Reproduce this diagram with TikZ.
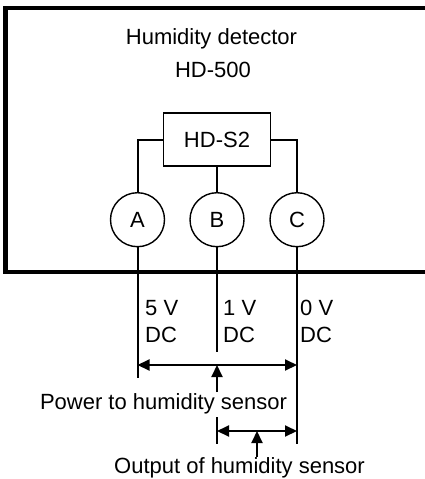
\documentclass[tikz,border=0pt]{standalone}
\usepackage{fontspec}
\setmainfont{Liberation Sans}
\usetikzlibrary{arrows.meta}
\begin{document}
\begin{tikzpicture}[x=1pt,y=-1pt,
  every node/.style={font=\fontsize{22}{26}\selectfont, inner sep=0pt},
  wire/.style={line width=2pt},
  frame/.style={line width=4.2pt, line join=miter},
  term/.style={circle, draw, line width=1.4pt, minimum size=54pt},
  chip/.style={rectangle, draw, line width=1.6pt, minimum width=107pt, minimum height=53pt},
  lbl/.style={anchor=base west},
  ctr/.style={anchor=base},
  dim/.style={line width=2pt, {Triangle[length=12pt,width=11pt]}-{Triangle[length=12pt,width=11pt]}},
  ptr/.style={line width=2pt, -{Triangle[length=12pt,width=11pt]}}]
\useasboundingbox (0,0) rectangle (425,479);
\fill[white] (0,0) rectangle (425,479);
% housing
\draw[frame] (440,8) -- (5.5,8) -- (5.5,272) -- (440,272);
\node[ctr] (title1) at (211.5,44) {Humidity detector};
\node[ctr] (title2) at (213,77) {HD-500};
% sensor chip and terminals
\node[chip] (s2) at (217,139.7) {HD-S2};
\node[term] (A) at (137.5,219.7) {A};
\node[term] (B) at (217,219.7) {B};
\node[term] (C) at (297,219.7) {C};
\draw[wire] (s2.west) -| (A.north);
\draw[wire] (s2.east) -| (C.north);
\draw[wire] (s2.south) -- (B.north);
% leads
\coordinate (Aend) at (137.5,378);
\coordinate (Bend) at (217,352);
\coordinate (Cend) at (297,444);
\draw[wire] (A.south) -- (Aend);
\draw[wire] (B.south) -- (Bend);
\draw[wire] (C.south) -- (Cend);
\coordinate (Btop) at (217,417);
\coordinate (Bbot) at (217,444);
\draw[wire] (Btop) -- (Bbot);
% voltage labels
\node[lbl] (va) at (145,315) {5 V};
\node[lbl] (da) at (145,342) {DC};
\node[lbl] (vb) at (223,315) {1 V};
\node[lbl] (db) at (223,342) {DC};
\node[lbl] (vc) at (300,315) {0 V};
\node[lbl] (dc) at (300,342) {DC};
% dimension arrows
\coordinate (p1) at (137.5,365);
\coordinate (p2) at (297,365);
\draw[dim] (p1) -- (p2);
\coordinate (o1) at (217,431);
\coordinate (o2) at (297,431);
\draw[dim] (o1) -- (o2);
% captions
\node[ctr] (pwr) at (163.5,409) {Power to humidity sensor};
\node[ctr] (out) at (239.5,473) {Output of humidity sensor};
\coordinate (pt1) at (217,365);
\coordinate (pb1) at (217,392);
\draw[ptr] (pb1) -- (pt1);
\coordinate (pt2) at (257,431);
\coordinate (pb2) at (257,457);
\draw[ptr] (pb2) -- (pt2);
\end{tikzpicture}
\end{document}
